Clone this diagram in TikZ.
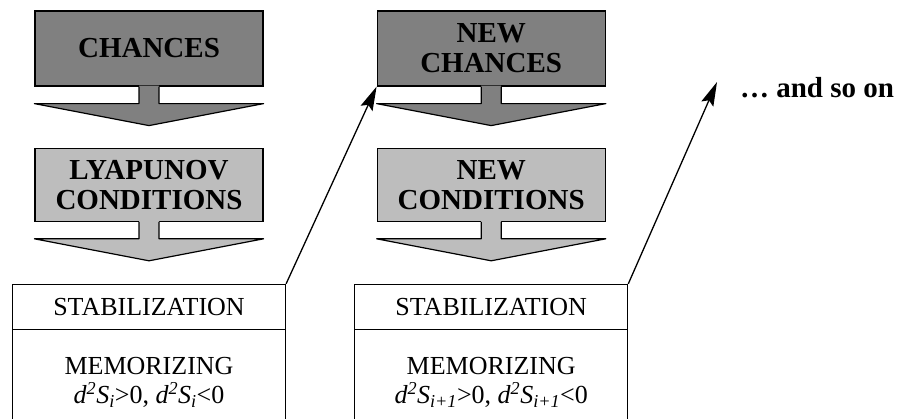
\documentclass[tikz,border=0pt]{standalone}
\usepackage{fontspec}
\setmainfont{Liberation Serif}
\definecolor{xamdam}{HTML}{808080}
\definecolor{xamnhat}{HTML}{BDBDBD}
\def\maudam{xamdam}
\def\maunhat{xamnhat}
\usetikzlibrary{calc,positioning,arrows.meta}

\begin{document}
\begin{tikzpicture}[x=1pt,y=-1pt,node distance=61pt]
		\tikzstyle{hopdam} = [draw,line width=1.2pt,fill=\maudam,minimum width=228pt,minimum height=75pt,align=center,font=\fontsize{29}{30}\selectfont\bfseries]
		\tikzstyle{hopnhat} = [hopdam,fill=\maunhat,minimum height=73pt]
		\tikzstyle{hoptrang} = [draw,line width=1.2pt,minimum width=273pt,align=center,font=\fontsize{26}{29}\selectfont]
		\tikzstyle{muiten} = [-{Stealth[length=24pt,width=13pt,inset=4pt]},line width=1.3pt]
		\clip (0,0) rectangle (899,418);
		% cot thu nhat
		\node[hopdam] (chances1) at (149,48.5) {CHANCES};
		\node[hopnhat,below=of chances1] (lyap1) {LYAPUNOV\\CONDITIONS};
		\node[hoptrang,minimum height=45pt,below=62pt of lyap1] (stab1) {STABILIZATION};
		\node[hoptrang,minimum height=106pt,below=-1.2pt of stab1] (mem1) {MEMORIZING\\
			{\itshape d\textsuperscript{2}S\textsubscript{i}}>0, {\itshape d\textsuperscript{2}S\textsubscript{i}}<0};
		% cot thu hai
		\node[hopdam,right=113pt of chances1] (chances2) {NEW\\CHANCES};
		\node[hopnhat,below=of chances2] (cond2) {NEW\\CONDITIONS};
		\node[hoptrang,minimum height=45pt,below=62pt of cond2] (stab2) {STABILIZATION};
		\node[hoptrang,minimum height=106pt,below=-1.2pt of stab2] (mem2) {MEMORIZING\\
			{\itshape d\textsuperscript{2}S\textsubscript{i+1}}>0, {\itshape d\textsuperscript{2}S\textsubscript{i+1}}<0};
		% mui ten khoi
		\foreach \n/\c in {chances1/\maudam,lyap1/\maunhat,chances2/\maudam,cond2/\maunhat}{
			\fill[\c] ($(\n.south)+(-10,-1)$)--($(\n.south)+(-10,17)$)--($(\n.south west)+(0,17)$)--
			($(\n.south)+(0,39)$)--($(\n.south east)+(0,17)$)--($(\n.south)+(10,17)$)--($(\n.south)+(10,-1)$)--cycle;
			\draw[line width=1.2pt,line join=round] ($(\n.south)+(-10,0)$)--($(\n.south)+(-10,17)$)--($(\n.south west)+(0,17)$)--
			($(\n.south)+(0,39)$)--($(\n.south east)+(0,17)$)--($(\n.south)+(10,17)$)--($(\n.south)+(10,0)$);
		}
		% tiep tuc
		\node[font=\fontsize{29}{30}\selectfont\bfseries] (soon) at (817,88) {… and so on};
		\coordinate (dich) at (717,82);
		\draw[muiten] (stab1.north east)--(chances2.south west);
		\draw[muiten] (stab2.north east)--(dich);
	\end{tikzpicture}
\end{document}
